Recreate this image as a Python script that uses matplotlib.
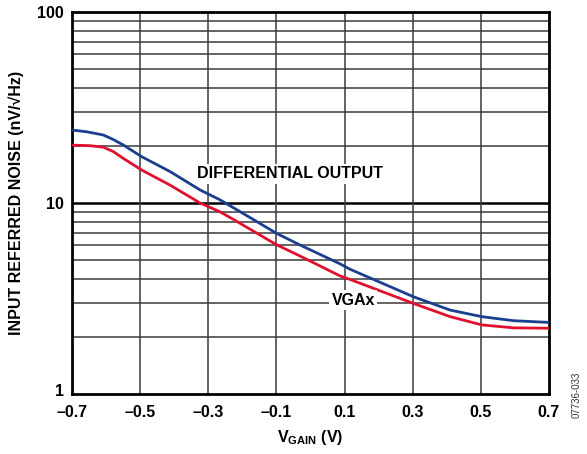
import numpy as np
import matplotlib
matplotlib.use("Agg")
import matplotlib.pyplot as plt
import matplotlib.transforms as mtransforms
from matplotlib.ticker import FixedLocator, NullFormatter

plt.rcParams['font.family'] = ['Liberation Sans', 'DejaVu Sans']
plt.rcParams['mathtext.fontset'] = 'custom'
plt.rcParams['mathtext.bf'] = 'Liberation Sans:bold'
plt.rcParams['mathtext.rm'] = 'Liberation Sans'

# Data
diff_x = [-0.7, -0.657, -0.608, -0.579, -0.549, -0.496, -0.412, -0.324, -0.266,
          -0.168, -0.1, -0.031, 0.087, 0.116, 0.302, 0.41, 0.503, 0.596, 0.7]
diff_out = [24.1, 23.6, 22.7, 21.5, 20.1, 17.5, 14.6, 11.7, 10.4,
            8.2, 6.94, 6.03, 4.80, 4.50, 3.23, 2.75, 2.54, 2.42, 2.37]
vgax_x = [-0.7, -0.647, -0.608, -0.579, -0.549, -0.496, -0.412, -0.324, -0.266,
          -0.226, -0.1, -0.031, 0.087, 0.116, 0.302, 0.41, 0.503, 0.596, 0.7]
vgax = [20.1, 19.95, 19.6, 18.6, 17.1, 14.9, 12.4, 10.0, 9.0,
        8.2, 6.05, 5.28, 4.15, 3.98, 2.98, 2.54, 2.30, 2.22, 2.21]

xticks = [-0.7, -0.5, -0.3, -0.1, 0.1, 0.3, 0.5, 0.7]
xticklabels = ['\u20130.7', '\u20130.5', '\u20130.3', '\u20130.1', '0.1', '0.3', '0.5', '0.7']
yticks = [1, 10, 100]
yticklabels = ['1', '10', '100']

FS = 11.5

fig = plt.figure(figsize=(5.87, 4.54), dpi=100)
ax = fig.add_axes([72/587, 1-394/454, (549-72)/587, (394-12)/454])
ax.set_yscale('log')
ax.set_xlim(-0.7, 0.7)
ax.set_ylim(1, 100)

# grid
minor = [m * d for d in (1, 10) for m in range(2, 10)]
for v in minor:
    ax.axhline(v, color='#3a3a3a', lw=1.1, zorder=1)
ax.axhline(10, color='black', lw=1.8, zorder=1)
for v in xticks[1:-1]:
    ax.axvline(v, color='#3a3a3a', lw=1.1, zorder=1)

ax.plot(diff_x, diff_out, color='#1a3f8f', lw=2.0, zorder=3,
        solid_joinstyle='round', solid_capstyle='butt')
ax.plot(vgax_x, vgax, color='#e0102f', lw=2.0, zorder=3,
        solid_joinstyle='round', solid_capstyle='butt')

ax.text(-0.06, 14.2, 'DIFFERENTIAL OUTPUT', fontsize=FS, fontweight='bold',
        ha='center', va='center', zorder=4,
        bbox=dict(facecolor='white', edgecolor='none', pad=2))
ax.text(0.125, 3.1, 'VGAx', fontsize=FS, fontweight='bold',
        ha='center', va='center', zorder=4,
        bbox=dict(facecolor='white', edgecolor='none', pad=2))

ax.xaxis.set_major_locator(FixedLocator(xticks))
ax.set_xticklabels(xticklabels, fontsize=FS, fontweight='bold')
ax.yaxis.set_major_locator(FixedLocator(yticks))
ax.set_yticklabels(yticklabels, fontsize=FS, fontweight='bold')
ax.yaxis.set_minor_formatter(NullFormatter())
ax.tick_params(which='both', length=0)
ax.tick_params(axis='x', pad=8)
ax.tick_params(axis='y', pad=6)

# lift the bottom y label "1" a little, as in the reference
lbl1 = ax.get_yticklabels()[0]
lbl1.set_transform(lbl1.get_transform() +
                   mtransforms.ScaledTranslation(0, 4/100, fig.dpi_scale_trans))

for s in ax.spines.values():
    s.set_linewidth(2.0)
    s.set_color('black')

ax.set_xlabel(r'V$_{\mathbf{GAIN}}$ (V)', fontsize=FS, fontweight='bold', labelpad=6)
ax.set_ylabel('INPUT REFERRED NOISE (nV/\u221aHz)', fontsize=FS, fontweight='bold', labelpad=9)

fig.text(577/587, 1-395/454, '07736-033', rotation=90, fontsize=7, color='#333333',
         ha='center', va='center')

fig.savefig('out.png', dpi=100)
